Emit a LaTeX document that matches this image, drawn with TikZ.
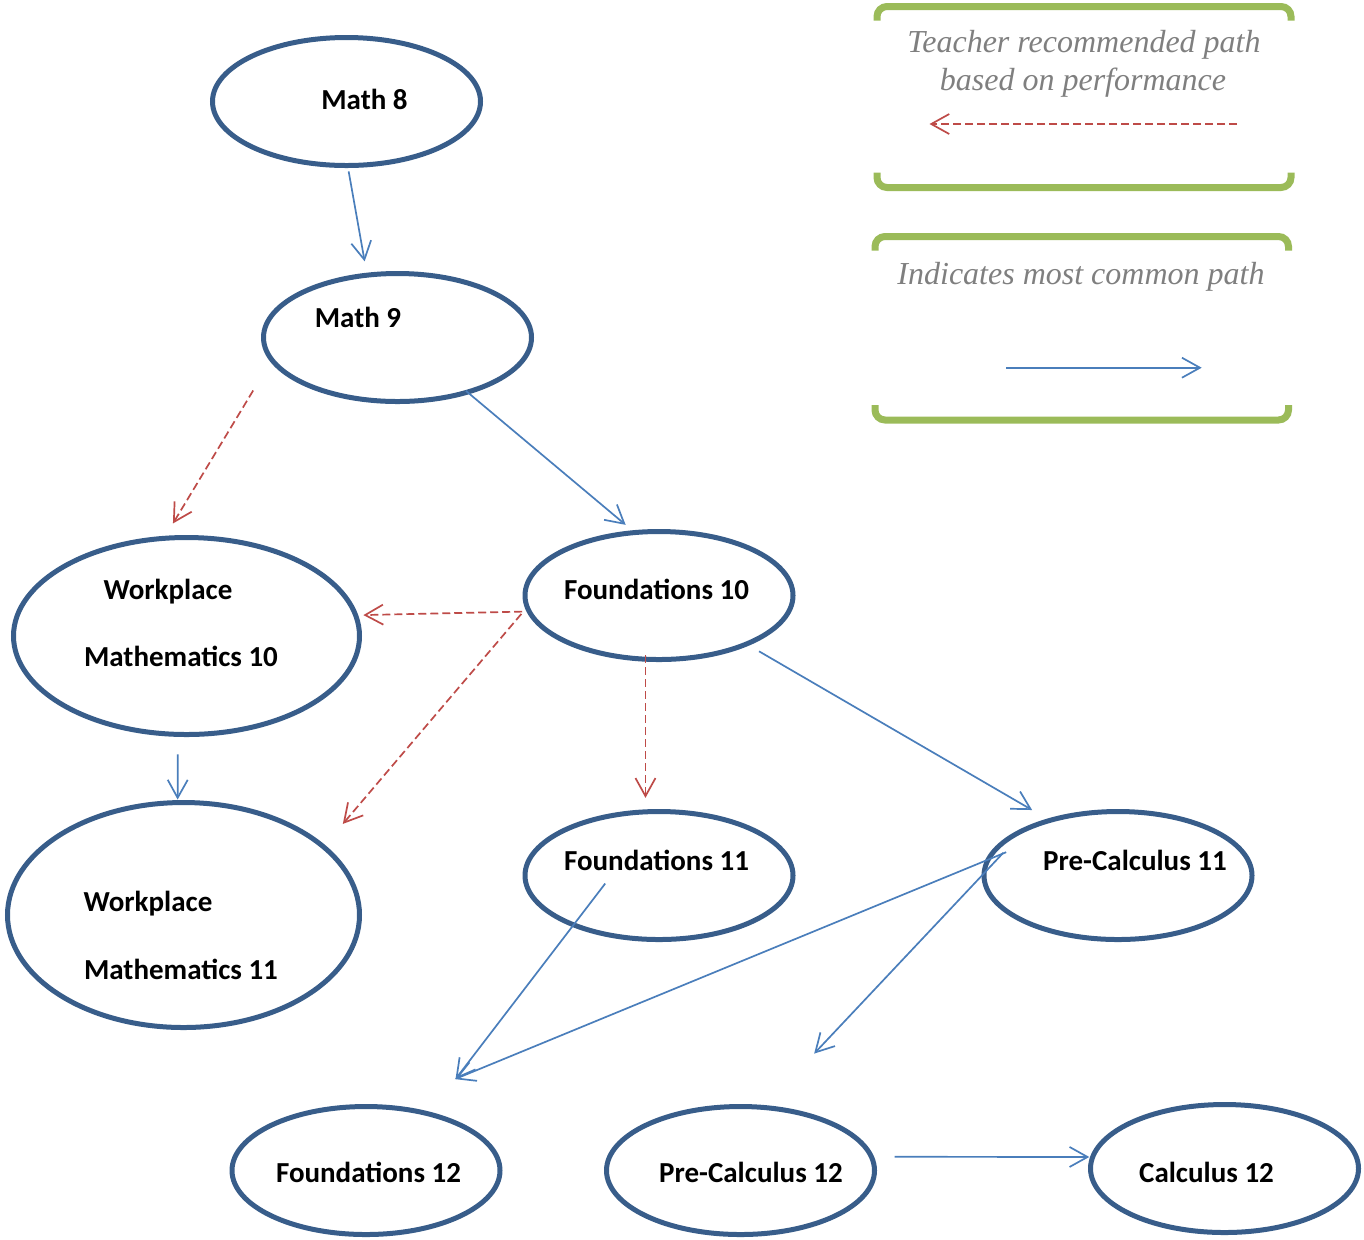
\documentclass[tikz,border=0pt]{standalone}
\usepackage{fontspec}
\usepackage{tikz}
\usepackage{xcolor}
\usetikzlibrary{shapes.geometric, arrows.meta}
\newfontfamily\coursefont{Carlito}
\newfontfamily\legendfont{Liberation Serif}
\definecolor{ovalblue}{HTML}{385D8A}
\definecolor{pathblue}{HTML}{4A7EBB}
\definecolor{pathred}{HTML}{BE4B48}
\definecolor{legendgreen}{HTML}{9BBB59}
\definecolor{legendgray}{HTML}{7F7F7F}

\begin{document}
\begin{tikzpicture}[x=0.5pt, y=-0.5pt,
  course/.style={ellipse, draw=ovalblue, line width=2.5pt, outer sep=0pt, inner sep=0pt,
    minimum width=134pt, minimum height=64pt},
  bigcourse/.style={course, minimum width=173pt, minimum height=98.5pt},
  biggercourse/.style={course, minimum width=176pt, minimum height=112.5pt},
  coursetext/.style={font=\coursefont\bfseries\fontsize{14.5pt}{17pt}\selectfont,
    anchor=base, inner sep=0pt},
  legendtext/.style={font=\legendfont\itshape\fontsize{16pt}{19pt}\selectfont,
    text=legendgray, anchor=base, inner sep=0pt},
  legendline/.style={legendgreen, line width=3.5pt, rounded corners=5pt},
  common/.style={pathblue, line width=0.85pt, -{Straight Barb[length=9pt,width=10pt]}},
  teacher/.style={pathred, line width=0.85pt, dash pattern=on 4pt off 2pt,
    -{Straight Barb[length=9pt,width=10pt]}}]
     \useasboundingbox (0,0) rectangle (1364,1239);
     % courses
     \node[course] (m8) at (346.5,101.5) {};
     \node[course] (m9) at (397.5,337.5) {};
     \node[bigcourse] (wm10) at (186.5,636) {};
     \node[course] (f10) at (659,595.5) {};
     \node[biggercourse] (wm11) at (183.5,915) {};
     \node[course] (f11) at (659,875.5) {};
     \node[course] (pc11) at (1118,875.5) {};
     \node[course] (f12) at (366,1170.5) {};
     \node[course] (pc12) at (740.5,1170.5) {};
     \node[course] (c12) at (1224.5,1168.5) {};
     % course names
     \node[coursetext] (m8name) at (364.5,109.3) {Math 8};
     \node[coursetext] (m9name) at (358,327) {Math 9};
     \node[coursetext] (wm10top) at (168,599) {Workplace};
     \node[coursetext] (wm10bot) at (181,666.7) {Mathematics 10};
     \node[coursetext] (f10name) at (656.5,599) {Foundations 10};
     \node[coursetext] (wm11top) at (148,911) {Workplace};
     \node[coursetext] (wm11bot) at (181,979) {Mathematics 11};
     \node[coursetext] (f11name) at (656.5,870) {Foundations 11};
     \node[coursetext] (pc11name) at (1135,870) {Pre-Calculus 11};
     \node[coursetext] (f12name) at (368.5,1182) {Foundations 12};
     \node[coursetext] (pc12name) at (751,1182) {Pre-Calculus 12};
     \node[coursetext] (c12name) at (1206.5,1182) {Calculus 12};
     %
     \draw[common, shorten <=3pt, shorten >=7pt] (m8.-89) -- (m9.116);
     \draw[common, shorten <=-1pt, shorten >=6pt] (m9.-38) -- (f10.111);
     \draw[teacher, shorten <=18pt, shorten >=8.7pt] (m9.190) -- (wm10.103);
     \draw[teacher, shorten <=3.5pt, shorten >=3.9pt] (f10.187) -- (wm10.7);
     \draw[teacher, shorten <=4.5pt, shorten >=15pt] (f10.185) -- (wm11.26);
     \draw[teacher, shorten <=-2pt, shorten >=7pt] (f10.258) -- (f11.102);
     \draw[common, shorten <=7.3pt, shorten >=10.3pt] (f10.-29) -- (pc11.141);
     \draw[common, shorten <=10pt, shorten >=1.5pt] (wm10.-95) -- (wm11.93);
     \draw[common, shorten <=-26pt, shorten >=22pt] (f11.210) -- (f12.42);
     \draw[common, shorten <=-9.7pt, shorten >=37pt] (pc11.173) -- (f12.72);
     \draw[common, shorten <=-14pt, shorten >=37pt] (pc11.179) -- (pc12.70);
     \draw[common, shorten <=11.6pt, shorten >=1.7pt] (pc12.6) -- (c12.175);
     % legend
     \draw[legendline] (877,20.7) -- (877,6.5) -- (1291,6.5) -- (1291,20.7);
     \draw[legendline] (877,172.7) -- (877,187.5) -- (1291,187.5) -- (1291,172.7);
     \node[legendtext] (teachtop) at (1084,52.7) {Teacher recommended path};
     \node[legendtext] (teachbot) at (1083,90.7) {based on performance};
     \coordinate (redfrom) at (1237,124);
     \coordinate (redto) at (929.5,124);
     \draw[teacher] (redfrom) -- (redto);
     %
     \draw[legendline] (875,250.7) -- (875,236.5) -- (1288.5,236.5) -- (1288.5,250.7);
     \draw[legendline] (875,405) -- (875,420) -- (1288.5,420) -- (1288.5,405);
     \node[legendtext] (commontext) at (1081,284.3) {Indicates most common path};
     \coordinate (bluefrom) at (1006,367.7);
     \coordinate (blueto) at (1201.7,367.7);
     \draw[common] (bluefrom) -- (blueto);
\end{tikzpicture}
\end{document}
